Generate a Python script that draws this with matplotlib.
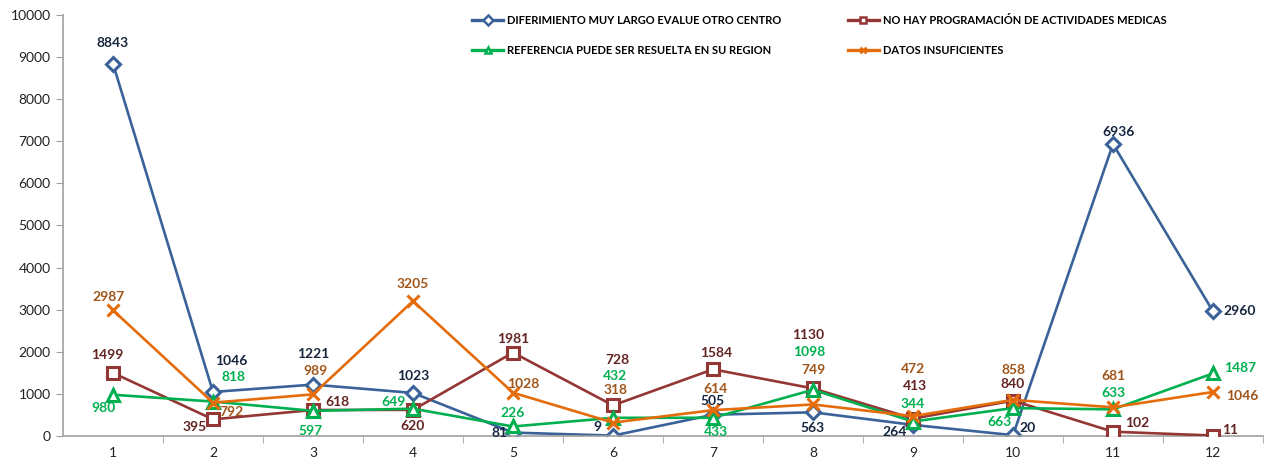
import matplotlib
matplotlib.use("Agg")
import matplotlib.pyplot as plt
from matplotlib.lines import Line2D

categories = [1, 2, 3, 4, 5, 6, 7, 8, 9, 10, 11, 12]
series_names = [
    "DIFERIMIENTO MUY LARGO EVALUE OTRO CENTRO",
    "NO HAY PROGRAMACIÓN DE ACTIVIDADES MEDICAS",
    "REFERENCIA PUEDE SER RESUELTA EN SU REGION",
    "DATOS INSUFICIENTES",
]
diferimiento = [8843, 1046, 1221, 1023, 81, 9, 505, 563, 264, 20, 6936, 2960]
no_hay_prog = [1499, 395, 618, 620, 1981, 728, 1584, 1130, 413, 840, 102, 11]
referencia = [980, 818, 597, 649, 226, 432, 433, 1098, 344, 663, 633, 1487]
datos_insuf = [2987, 792, 989, 3205, 1028, 318, 614, 749, 472, 858, 681, 1046]
y_ticks = [0, 1000, 2000, 3000, 4000, 5000, 6000, 7000, 8000, 9000, 10000]

# label offsets in pixels (dx, dy with dy downward positive) -- layout only
label_offsets = [
    [(0, -21), (18, -31), (0, -31), (0, -17), (-13, 0), (-16, -9), (0, -14), (0, 16), (-18, 7), (15, -7), (6, -12), (27, 0)],
    [(-6, -18), (-18, 8), (24, -8), (0, 16), (0, -14), (4, -45), (3, -16), (-5, -53), (2, -33), (0, -17), (24, -9), (17, -6)],
    [(-9, 13), (21, -25), (-2, 20), (-19, -7), (0, -13), (2, -42), (3, 14), (-4, -38), (0, -18), (-14, 14), (0, -16), (27, -5)],
    [(-4, -13), (19, 9), (2, -23), (0, -17), (10, -9), (3, -33), (3, -21), (0, -34), (0, -47), (0, -30), (0, -31), (29, 4)],
]

line_colors = ["#3A6299", "#943634", "#00B050", "#E46C0A"]
label_colors = ["#17263F", "#632523", "#00B050", "#A0561A"]
markers = ["D", "s", "^", "x"]
msizes = [7, 9, 9, 9]

plt.rcParams['font.family'] = ['Lato', 'DejaVu Sans']

fig = plt.figure(figsize=(12.67, 4.66), dpi=100)
W, H = 1267, 466
ax = fig.add_axes([63 / W, 30 / H, 1200 / W, 421 / H])

all_series = [diferimiento, no_hay_prog, referencia, datos_insuf]
handles = []
for i, vals in enumerate(all_series):
    mfc = line_colors[i] if markers[i] == "x" else "white"
    ax.plot(categories, vals, color=line_colors[i], lw=1.9, marker=markers[i],
            ms=msizes[i], mfc=mfc, mec=line_colors[i], mew=2.2, zorder=2 + i)
    handles.append(Line2D([0], [0], color=line_colors[i], lw=2.4, marker=markers[i],
                          ms=5, mfc=mfc, mec=line_colors[i], mew=1.8))

for i, vals in enumerate(all_series):
    for j, v in enumerate(vals):
        dx, dy = label_offsets[i][j]
        ax.annotate(str(v), (categories[j], v), xytext=(dx, -dy),
                    textcoords="offset pixels", ha="center", va="center",
                    fontsize=10, fontweight="bold", color=label_colors[i], zorder=10)

ax.set_xlim(0.5, 12.5)
ax.set_ylim(0, 10000)
ax.set_yticks(y_ticks)
ax.set_yticklabels([str(t) for t in y_ticks], fontsize=10, color="#222222")
ax.set_xticks(categories)
ax.set_xticklabels([str(c) for c in categories], fontsize=10, color="#222222")
ax.set_xticks([c + 0.5 for c in categories[:-1]] + [12.5], minor=True)
ax.tick_params(axis="x", which="major", length=0, pad=8)
ax.tick_params(axis="x", which="minor", length=5, color="#A0A0A0", direction="out")
ax.tick_params(axis="y", length=5, color="#A0A0A0", direction="out", pad=4)
for s in ["top", "right"]:
    ax.spines[s].set_visible(False)
for s in ["left", "bottom"]:
    ax.spines[s].set_color("#A0A0A0")
    ax.spines[s].set_linewidth(1.2)

order = [0, 2, 1, 3]
leg = fig.legend([handles[k] for k in order], [series_names[k] for k in order],
                 ncol=2, loc="upper left", bbox_to_anchor=(472 / W, 1 - 15 / H),
                 frameon=False, prop={"size": 8, "weight": "bold"},
                 handlelength=2.8, handletextpad=0.35, columnspacing=6.0,
                 labelspacing=1.7, borderaxespad=0, borderpad=0)

fig.savefig("out.png", dpi=100)
